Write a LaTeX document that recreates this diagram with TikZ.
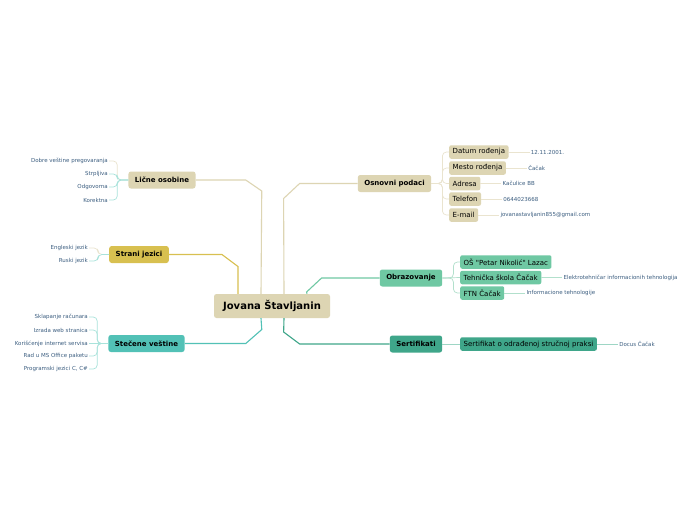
\documentclass[tikz,border=0pt]{standalone}
\usepackage{fontspec}
\setmainfont{DejaVu Sans}
\usetikzlibrary{positioning}

\definecolor{beige}{HTML}{DDD5B3}
\definecolor{mustard}{HTML}{D8C050}
\definecolor{teal}{HTML}{52C1B6}
\definecolor{mint}{HTML}{6FC8A3}
\definecolor{pine}{HTML}{3FA68A}
\definecolor{leaftext}{HTML}{3C5E80}
\definecolor{palebeige}{HTML}{EAE4CF}
\definecolor{palecyan}{HTML}{A9E3DB}
\definecolor{palemint}{HTML}{B2E0CC}
\definecolor{palepine}{HTML}{9ED6C5}

\begin{document}
\begin{tikzpicture}[
        x=1pt, y=-1pt,
        node distance=21pt,
        main/.style={rectangle, rounded corners=2.5pt, font=\fontsize{7}{8}\selectfont\bfseries, minimum height=17pt, inner xsep=6.5pt, inner ysep=0pt},
        sub/.style={rectangle, rounded corners=2pt, font=\fontsize{7}{8}\selectfont, minimum height=13.5pt, inner xsep=3.5pt, inner ysep=0pt, anchor=west},
        leaf/.style={font=\fontsize{5.5}{6}\selectfont, text=leaftext, inner sep=1pt},
        branch/.style={line width=1.1pt},
        twig/.style={line width=0.7pt, rounded corners=4pt}
    ]
        \fill[white] (0,0) rectangle (696,520);
        \useasboundingbox (0,0) rectangle (696,520);
        % center and main branches
        \node[main, fill=beige, font=\fontsize{10}{12}\selectfont\bfseries, minimum height=24pt, minimum width=116pt, inner xsep=7pt] (jovana) at (272,306) {Jovana Štavljanin};
        \node[main, fill=beige] (licne) at (162,180) {Lične osobine};
        \node[main, fill=mustard] (strani) at (139,254.5) {Strani jezici};
        \node[main, fill=teal] (vestine) at (146.5,343.5) {Stečene veštine};
        \node[main, fill=beige] (osnovni) at (394.5,183.5) {Osnovni podaci};
        \node[main, fill=mint] (obraz) at (411,278) {Obrazovanje};
        \node[main, fill=pine] (sert) at (416,344) {Sertifikati};
        \draw[branch, beige] (licne.east) -- ++(50,0) -- ++(16,11) -- ([xshift=-11pt]jovana.north);
        \draw[branch, mustard] (strani.east) -- ++(53,0) -- ++(16,12) -- ([xshift=-34pt]jovana.north);
        \draw[branch, teal] (vestine.east) -- ++(61,0) -- ++(16,-14) -- ([xshift=-11pt]jovana.south);
        \draw[branch, beige] (osnovni.west) -- ++(-58,0) -- ++(-16,15) -- ([xshift=12pt]jovana.north);
        \draw[branch, mint] (obraz.west) -- ++(-58,0) -- ++(-15,14) -- ([xshift=35pt]jovana.north);
        \draw[branch, pine] (sert.west) -- ++(-90,0) -- ++(-16,-12) -- ([xshift=12pt]jovana.south);
        % left leaves
        \node[leaf, anchor=east] (lo1) at (109,161) {Dobre veštine pregovaranja};
        \node[leaf, anchor=east] (lo2) at (109,174) {Strpljiva};
        \node[leaf, anchor=east] (lo3) at (109,187) {Odgovorna};
        \node[leaf, anchor=east] (lo4) at (109,200) {Korektna};
        \draw[twig, palebeige] (licne.west) -- ++(-11,0) |- (lo1.east);
        \draw[twig, palecyan] (licne.west) -- ++(-11,0) |- (lo2.east);
        \draw[twig, palecyan] (licne.west) -- ++(-11,0) |- (lo3.east);
        \draw[twig, palecyan] (licne.west) -- ++(-11,0) |- (lo4.east);
        \node[leaf, anchor=east] (sj1) at (89,248) {Engleski jezik};
        \node[leaf, anchor=east] (sj2) at (89,261) {Ruski jezik};
        \draw[twig, palebeige] (strani.west) -- ++(-11,0) |- (sj1.east);
        \draw[twig, palecyan] (strani.west) -- ++(-11,0) |- (sj2.east);
        \node[leaf, anchor=east] (sv1) at (89,317) {Sklapanje računara};
        \node[leaf, anchor=east] (sv2) at (89,330) {Izrada web stranica};
        \node[leaf, anchor=east] (sv3) at (89,343.5) {Korišćenje internet servisa};
        \node[leaf, anchor=east] (sv4) at (89,356) {Rad u MS Office paketu};
        \node[leaf, anchor=east] (sv5) at (89,369) {Programski jezici C, C\#};
        \draw[twig, palecyan] (vestine.west) -- ++(-11,0) |- (sv1.east);
        \draw[twig, palecyan] (vestine.west) -- ++(-11,0) |- (sv2.east);
        \draw[twig, palecyan] (vestine.west) -- (sv3.east);
        \draw[twig, palecyan] (vestine.west) -- ++(-11,0) |- (sv4.east);
        \draw[twig, palecyan] (vestine.west) -- ++(-11,0) |- (sv5.east);
        % osnovni podaci
        \node[sub, fill=beige] (datum) at (449,152) {Datum rođenja};
        \node[sub, fill=beige] (mesto) at (449,168) {Mesto rođenja};
        \node[sub, fill=beige] (adresa) at (449,183.5) {Adresa};
        \node[sub, fill=beige] (tel) at (449,199) {Telefon};
        \node[sub, fill=beige] (mail) at (449,215) {E-mail};
        \foreach \s in {datum, mesto, adresa, tel, mail}
            \draw[twig, palebeige] (osnovni.east) -- ++(11,0) |- (\s.west);
        \node[leaf, right=of datum] (datumv) {12.11.2001.};
        \node[leaf, right=of mesto] (mestov) {Čačak};
        \node[leaf, right=of adresa] (adresav) {Kačulice BB};
        \node[leaf, right=of tel] (telv) {0644023668};
        \node[leaf, right=of mail] (mailv) {jovanastavljanin855@gmail.com};
        \draw[twig, palebeige] (datum) -- (datumv);
        \draw[twig, palebeige] (mesto) -- (mestov);
        \draw[twig, palebeige] (adresa) -- (adresav);
        \draw[twig, palebeige] (tel) -- (telv);
        \draw[twig, palebeige] (mail) -- (mailv);
        % obrazovanje
        \node[sub, fill=mint] (os) at (460,262) {OŠ \textquotedbl Petar Nikolić\textquotedbl{} Lazac};
        \node[sub, fill=mint] (tehn) at (460,277.5) {Tehnička škola Čačak};
        \node[sub, fill=mint] (ftn) at (460,293) {FTN Čačak};
        \draw[twig, palemint] (obraz.east) -- ++(11,0) |- (os.west);
        \draw[twig, palemint] (obraz.east) -- (tehn.west);
        \draw[twig, palemint] (obraz.east) -- ++(11,0) |- (ftn.west);
        \node[leaf, right=of tehn] (tehnv) {Elektrotehničar informacionih tehnologija};
        \node[leaf, right=of ftn] (ftnv) {Informacione tehnologije};
        \draw[twig, palemint] (tehn) -- (tehnv);
        \draw[twig, palemint] (ftn) -- (ftnv);
        % sertifikati
        \node[sub, fill=pine] (praksa) at (460,344) {Sertifikat o odrađenoj stručnoj praksi};
        \node[leaf, right=of praksa] (praksav) {Docus Čačak};
        \draw[twig, palepine] (sert.east) -- (praksa.west);
        \draw[twig, palepine] (praksa) -- (praksav);
    \end{tikzpicture}
\end{document}
